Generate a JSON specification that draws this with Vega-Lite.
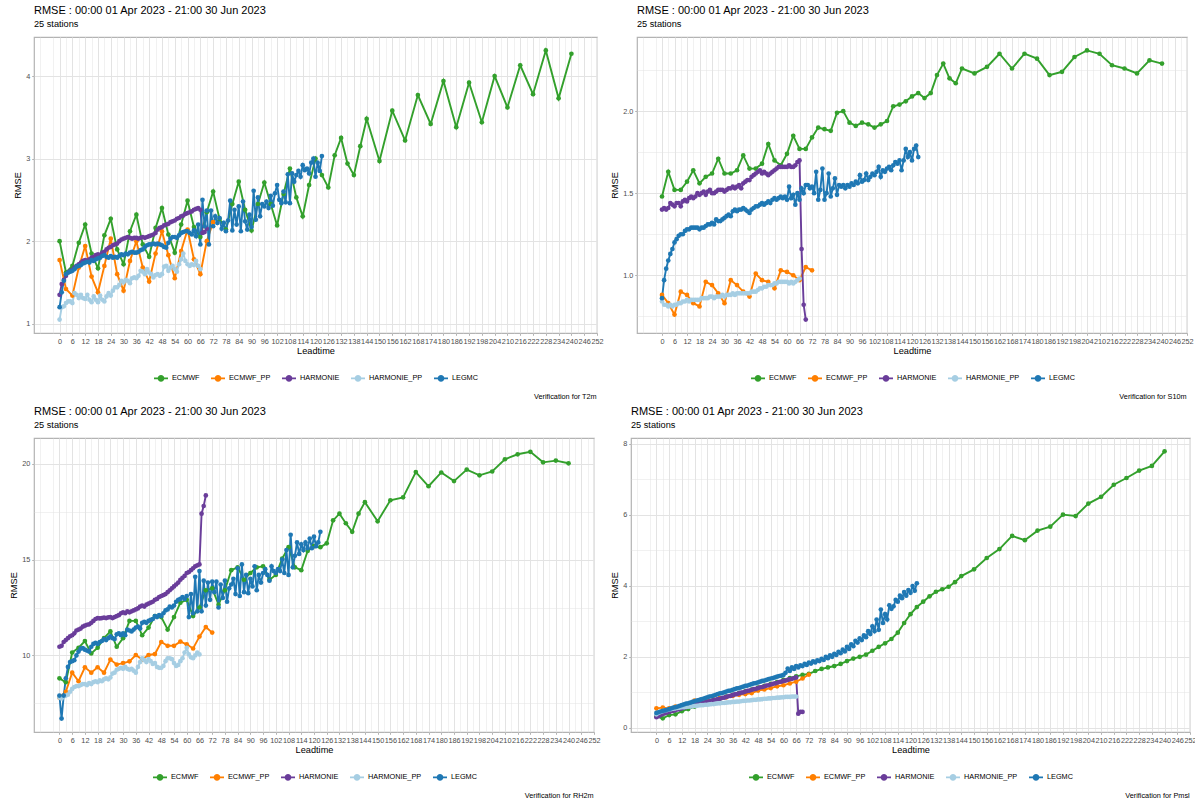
{
"$schema": "https://vega.github.io/schema/vega-lite/v6.json",
"padding": {"left": 8, "top": 4, "right": 0, "bottom": 0},
"background": "white",
"columns": 2,
"align": "none",
"spacing": {"row": 5, "column": 5},
"resolve": {"scale": {"color": "independent"}},
"config": {
 "font": "Liberation Sans",
 "view": {"stroke": "#B3B3B3", "strokeWidth": 1.2},
 "range": {"category": ["#33a02c", "#ff7f00", "#6a3d9a", "#a6cee3", "#1f78b4"]},
 "axis": {"domain": false, "labelFontSize": 7.3, "labelColor": "#4D4D4D", "labelPadding": 1.8, "tickSize": 2.3, "tickColor": "#B3B3B3", "tickWidth": 1, "titleFontSize": 9.2, "titleFontWeight": "normal", "titleColor": "#000000", "titlePadding": 2.3, "gridColor": "#E3E3E3", "labelOverlap": false, "labelFlush": false},
 "axisY": {"titlePadding": 3.5},
 "legend": {"orient": "bottom", "direction": "horizontal", "labelFontSize": 7.3, "labelColor": "#000000", "symbolType": "M-1,0H1M-0.34,0A0.34,0.34 0 1,0 0.34,0A0.34,0.34 0 1,0 -0.34,0", "symbolSize": 196, "symbolStrokeWidth": 1.9, "labelOffset": 3, "columnPadding": 7, "offset": 14, "layout": {"bottom": {"anchor": "middle"}}},
 "title": {"anchor": "start", "fontSize": 11, "fontWeight": "normal", "color": "#000000", "subtitleFontSize": 9.2, "subtitleColor": "#000000", "subtitlePadding": 4, "offset": 8, "frame": "group"},
 "line": {"strokeWidth": 1.9},
 "point": {"filled": true, "size": 22, "opacity": 1}
},
"datasets": {
"t2m_ecmwf": [{"t":0,"v":2.0},{"t":3,"v":1.62},{"t":6,"v":1.7},{"t":9,"v":1.98},{"t":12,"v":2.2},{"t":15,"v":1.85},{"t":18,"v":1.67},{"t":21,"v":2.07},{"t":24,"v":2.27},{"t":27,"v":1.9},{"t":30,"v":1.72},{"t":33,"v":2.12},{"t":36,"v":2.32},{"t":39,"v":1.96},{"t":42,"v":1.81},{"t":45,"v":2.16},{"t":48,"v":2.4},{"t":51,"v":2.08},{"t":54,"v":1.86},{"t":57,"v":2.2},{"t":60,"v":2.49},{"t":63,"v":2.17},{"t":66,"v":2.05},{"t":69,"v":2.35},{"t":72,"v":2.6},{"t":75,"v":2.27},{"t":78,"v":2.14},{"t":81,"v":2.45},{"t":84,"v":2.72},{"t":87,"v":2.38},{"t":90,"v":2.13},{"t":93,"v":2.45},{"t":96,"v":2.71},{"t":99,"v":2.45},{"t":102,"v":2.19},{"t":105,"v":2.57},{"t":108,"v":2.88},{"t":111,"v":2.53},{"t":114,"v":2.3},{"t":117,"v":2.68},{"t":120,"v":3.0},{"t":123,"v":2.8},{"t":126,"v":2.65},{"t":129,"v":3.04},{"t":132,"v":3.25},{"t":135,"v":2.94},{"t":138,"v":2.8},{"t":141,"v":3.15},{"t":144,"v":3.48},{"t":150,"v":2.97},{"t":156,"v":3.58},{"t":162,"v":3.22},{"t":168,"v":3.77},{"t":174,"v":3.42},{"t":180,"v":3.94},{"t":186,"v":3.38},{"t":192,"v":3.92},{"t":198,"v":3.44},{"t":204,"v":4.0},{"t":210,"v":3.62},{"t":216,"v":4.13},{"t":222,"v":3.78},{"t":228,"v":4.31},{"t":234,"v":3.73},{"t":240,"v":4.27}],
"t2m_ecmwfpp": [{"t":0,"v":1.77},{"t":3,"v":1.42},{"t":6,"v":1.34},{"t":9,"v":1.68},{"t":12,"v":1.94},{"t":15,"v":1.57},{"t":18,"v":1.38},{"t":21,"v":1.7},{"t":24,"v":2.03},{"t":27,"v":1.6},{"t":30,"v":1.4},{"t":33,"v":1.76},{"t":36,"v":2.0},{"t":39,"v":1.68},{"t":42,"v":1.51},{"t":45,"v":1.85},{"t":48,"v":2.12},{"t":51,"v":1.83},{"t":54,"v":1.55},{"t":57,"v":1.88},{"t":60,"v":2.14},{"t":63,"v":1.78},{"t":66,"v":1.6},{"t":69,"v":2.0},{"t":72,"v":2.23}],
"t2m_harmonie": [{"t":0,"v":1.35},{"t":1,"v":1.48},{"t":2,"v":1.53},{"t":3,"v":1.58},{"t":4,"v":1.62},{"t":5,"v":1.64},{"t":6,"v":1.65},{"t":7,"v":1.68},{"t":8,"v":1.7},{"t":9,"v":1.72},{"t":10,"v":1.74},{"t":11,"v":1.76},{"t":12,"v":1.77},{"t":13,"v":1.76},{"t":14,"v":1.78},{"t":15,"v":1.8},{"t":16,"v":1.81},{"t":17,"v":1.83},{"t":18,"v":1.84},{"t":19,"v":1.83},{"t":20,"v":1.86},{"t":21,"v":1.87},{"t":22,"v":1.9},{"t":23,"v":1.92},{"t":24,"v":1.93},{"t":25,"v":1.95},{"t":26,"v":1.96},{"t":27,"v":1.97},{"t":28,"v":2.0},{"t":29,"v":2.02},{"t":30,"v":2.03},{"t":31,"v":2.04},{"t":32,"v":2.05},{"t":33,"v":2.04},{"t":34,"v":2.03},{"t":35,"v":2.04},{"t":36,"v":2.04},{"t":37,"v":2.03},{"t":38,"v":2.04},{"t":39,"v":2.05},{"t":40,"v":2.04},{"t":41,"v":2.05},{"t":42,"v":2.06},{"t":43,"v":2.07},{"t":44,"v":2.08},{"t":45,"v":2.1},{"t":46,"v":2.14},{"t":47,"v":2.16},{"t":48,"v":2.17},{"t":49,"v":2.19},{"t":50,"v":2.2},{"t":51,"v":2.21},{"t":52,"v":2.23},{"t":53,"v":2.24},{"t":54,"v":2.25},{"t":55,"v":2.27},{"t":56,"v":2.28},{"t":57,"v":2.3},{"t":58,"v":2.31},{"t":59,"v":2.33},{"t":60,"v":2.34},{"t":61,"v":2.35},{"t":62,"v":2.36},{"t":63,"v":2.38},{"t":64,"v":2.39},{"t":65,"v":2.4},{"t":66,"v":2.38},{"t":67,"v":2.1},{"t":68,"v":2.11},{"t":69,"v":2.15}],
"t2m_harmoniepp": [{"t":0,"v":1.05},{"t":1,"v":1.2},{"t":2,"v":1.21},{"t":3,"v":1.25},{"t":4,"v":1.27},{"t":5,"v":1.27},{"t":6,"v":1.25},{"t":7,"v":1.37},{"t":8,"v":1.35},{"t":9,"v":1.31},{"t":10,"v":1.35},{"t":11,"v":1.31},{"t":12,"v":1.3},{"t":13,"v":1.35},{"t":14,"v":1.29},{"t":15,"v":1.26},{"t":16,"v":1.33},{"t":17,"v":1.29},{"t":18,"v":1.26},{"t":19,"v":1.34},{"t":20,"v":1.29},{"t":21,"v":1.27},{"t":22,"v":1.33},{"t":23,"v":1.37},{"t":24,"v":1.34},{"t":25,"v":1.4},{"t":26,"v":1.44},{"t":27,"v":1.44},{"t":28,"v":1.47},{"t":29,"v":1.52},{"t":30,"v":1.5},{"t":31,"v":1.53},{"t":32,"v":1.52},{"t":33,"v":1.49},{"t":34,"v":1.55},{"t":35,"v":1.56},{"t":36,"v":1.55},{"t":37,"v":1.58},{"t":38,"v":1.64},{"t":39,"v":1.63},{"t":40,"v":1.6},{"t":41,"v":1.66},{"t":42,"v":1.62},{"t":43,"v":1.6},{"t":44,"v":1.56},{"t":45,"v":1.59},{"t":46,"v":1.6},{"t":47,"v":1.58},{"t":48,"v":1.6},{"t":49,"v":1.69},{"t":50,"v":1.7},{"t":51,"v":1.64},{"t":52,"v":1.68},{"t":53,"v":1.7},{"t":54,"v":1.66},{"t":55,"v":1.63},{"t":56,"v":1.72},{"t":57,"v":1.78},{"t":58,"v":1.85},{"t":59,"v":1.76},{"t":60,"v":1.72},{"t":61,"v":1.7},{"t":62,"v":1.72},{"t":63,"v":1.71},{"t":64,"v":1.76},{"t":65,"v":1.7},{"t":66,"v":1.66}],
"t2m_legmc": [{"t":0,"v":1.2},{"t":1,"v":1.38},{"t":2,"v":1.52},{"t":3,"v":1.6},{"t":4,"v":1.62},{"t":5,"v":1.63},{"t":6,"v":1.64},{"t":7,"v":1.66},{"t":8,"v":1.69},{"t":9,"v":1.7},{"t":10,"v":1.71},{"t":11,"v":1.73},{"t":12,"v":1.74},{"t":13,"v":1.75},{"t":14,"v":1.74},{"t":15,"v":1.77},{"t":16,"v":1.76},{"t":17,"v":1.78},{"t":18,"v":1.79},{"t":19,"v":1.8},{"t":20,"v":1.82},{"t":21,"v":1.83},{"t":22,"v":1.81},{"t":23,"v":1.8},{"t":24,"v":1.82},{"t":25,"v":1.8},{"t":26,"v":1.81},{"t":27,"v":1.8},{"t":28,"v":1.82},{"t":29,"v":1.84},{"t":30,"v":1.83},{"t":31,"v":1.85},{"t":32,"v":1.84},{"t":33,"v":1.86},{"t":34,"v":1.87},{"t":35,"v":1.86},{"t":36,"v":1.86},{"t":37,"v":1.87},{"t":38,"v":1.89},{"t":39,"v":1.9},{"t":40,"v":1.93},{"t":41,"v":1.95},{"t":42,"v":1.96},{"t":43,"v":1.96},{"t":44,"v":1.97},{"t":45,"v":1.96},{"t":46,"v":1.97},{"t":47,"v":1.96},{"t":48,"v":1.95},{"t":49,"v":1.93},{"t":50,"v":1.92},{"t":51,"v":1.98},{"t":52,"v":2.03},{"t":53,"v":2.05},{"t":54,"v":2.05},{"t":55,"v":2.04},{"t":56,"v":2.07},{"t":57,"v":2.1},{"t":58,"v":2.11},{"t":59,"v":2.12},{"t":60,"v":2.12},{"t":61,"v":2.1},{"t":62,"v":2.08},{"t":63,"v":2.13},{"t":64,"v":2.06},{"t":65,"v":2.2},{"t":66,"v":1.96},{"t":67,"v":2.5},{"t":68,"v":2.18},{"t":69,"v":2.37},{"t":70,"v":1.96},{"t":71,"v":2.37},{"t":72,"v":2.18},{"t":73,"v":2.3},{"t":74,"v":2.22},{"t":75,"v":2.28},{"t":76,"v":2.15},{"t":77,"v":2.22},{"t":78,"v":2.12},{"t":79,"v":2.25},{"t":80,"v":2.49},{"t":81,"v":2.13},{"t":82,"v":2.38},{"t":83,"v":2.2},{"t":84,"v":2.42},{"t":85,"v":2.12},{"t":86,"v":2.48},{"t":87,"v":2.24},{"t":88,"v":2.14},{"t":89,"v":2.32},{"t":90,"v":2.17},{"t":91,"v":2.61},{"t":92,"v":2.26},{"t":93,"v":2.53},{"t":94,"v":2.3},{"t":95,"v":2.45},{"t":96,"v":2.42},{"t":97,"v":2.48},{"t":98,"v":2.4},{"t":99,"v":2.55},{"t":100,"v":2.43},{"t":101,"v":2.58},{"t":102,"v":2.68},{"t":103,"v":2.5},{"t":104,"v":2.46},{"t":105,"v":2.6},{"t":106,"v":2.47},{"t":107,"v":2.81},{"t":108,"v":2.46},{"t":109,"v":2.82},{"t":110,"v":2.72},{"t":111,"v":2.8},{"t":112,"v":2.85},{"t":113,"v":2.78},{"t":114,"v":2.92},{"t":115,"v":2.86},{"t":116,"v":2.88},{"t":117,"v":2.82},{"t":118,"v":2.95},{"t":119,"v":3.0},{"t":120,"v":2.78},{"t":121,"v":2.95},{"t":122,"v":2.85},{"t":123,"v":3.03}],
"s10m_ecmwf": [{"t":0,"v":1.48},{"t":3,"v":1.63},{"t":6,"v":1.52},{"t":9,"v":1.52},{"t":12,"v":1.57},{"t":15,"v":1.64},{"t":18,"v":1.56},{"t":21,"v":1.6},{"t":24,"v":1.62},{"t":27,"v":1.71},{"t":30,"v":1.62},{"t":33,"v":1.62},{"t":36,"v":1.64},{"t":39,"v":1.73},{"t":42,"v":1.65},{"t":45,"v":1.65},{"t":48,"v":1.68},{"t":51,"v":1.8},{"t":54,"v":1.7},{"t":57,"v":1.67},{"t":60,"v":1.74},{"t":63,"v":1.85},{"t":66,"v":1.77},{"t":69,"v":1.77},{"t":72,"v":1.84},{"t":75,"v":1.9},{"t":78,"v":1.89},{"t":81,"v":1.88},{"t":84,"v":1.99},{"t":87,"v":2.0},{"t":90,"v":1.93},{"t":93,"v":1.91},{"t":96,"v":1.93},{"t":99,"v":1.92},{"t":102,"v":1.9},{"t":105,"v":1.92},{"t":108,"v":1.94},{"t":111,"v":2.03},{"t":114,"v":2.04},{"t":117,"v":2.06},{"t":120,"v":2.09},{"t":123,"v":2.11},{"t":126,"v":2.08},{"t":129,"v":2.11},{"t":132,"v":2.22},{"t":135,"v":2.29},{"t":138,"v":2.2},{"t":141,"v":2.17},{"t":144,"v":2.26},{"t":150,"v":2.23},{"t":156,"v":2.27},{"t":162,"v":2.35},{"t":168,"v":2.26},{"t":174,"v":2.35},{"t":180,"v":2.32},{"t":186,"v":2.22},{"t":192,"v":2.24},{"t":198,"v":2.33},{"t":204,"v":2.37},{"t":210,"v":2.35},{"t":216,"v":2.28},{"t":222,"v":2.26},{"t":228,"v":2.23},{"t":234,"v":2.31},{"t":240,"v":2.29}],
"s10m_ecmwfpp": [{"t":0,"v":0.88},{"t":3,"v":0.83},{"t":6,"v":0.76},{"t":9,"v":0.9},{"t":12,"v":0.88},{"t":15,"v":0.83},{"t":18,"v":0.81},{"t":21,"v":0.96},{"t":24,"v":0.94},{"t":27,"v":0.89},{"t":30,"v":0.83},{"t":33,"v":0.97},{"t":36,"v":0.94},{"t":39,"v":0.9},{"t":42,"v":0.87},{"t":45,"v":1.01},{"t":48,"v":0.97},{"t":51,"v":0.96},{"t":54,"v":0.92},{"t":57,"v":1.03},{"t":60,"v":1.02},{"t":63,"v":1.0},{"t":66,"v":0.97},{"t":69,"v":1.05},{"t":72,"v":1.03}],
"s10m_harmonie": [{"t":0,"v":1.4},{"t":1,"v":1.41},{"t":2,"v":1.4},{"t":3,"v":1.41},{"t":4,"v":1.44},{"t":5,"v":1.43},{"t":6,"v":1.42},{"t":7,"v":1.44},{"t":8,"v":1.44},{"t":9,"v":1.42},{"t":10,"v":1.45},{"t":11,"v":1.46},{"t":12,"v":1.45},{"t":13,"v":1.47},{"t":14,"v":1.48},{"t":15,"v":1.47},{"t":16,"v":1.48},{"t":17,"v":1.5},{"t":18,"v":1.49},{"t":19,"v":1.5},{"t":20,"v":1.51},{"t":21,"v":1.49},{"t":22,"v":1.51},{"t":23,"v":1.52},{"t":24,"v":1.5},{"t":25,"v":1.5},{"t":26,"v":1.51},{"t":27,"v":1.52},{"t":28,"v":1.52},{"t":29,"v":1.52},{"t":30,"v":1.51},{"t":31,"v":1.52},{"t":32,"v":1.53},{"t":33,"v":1.53},{"t":34,"v":1.54},{"t":35,"v":1.53},{"t":36,"v":1.54},{"t":37,"v":1.55},{"t":38,"v":1.53},{"t":39,"v":1.56},{"t":40,"v":1.57},{"t":41,"v":1.58},{"t":42,"v":1.58},{"t":43,"v":1.6},{"t":44,"v":1.61},{"t":45,"v":1.62},{"t":46,"v":1.63},{"t":47,"v":1.64},{"t":48,"v":1.62},{"t":49,"v":1.63},{"t":50,"v":1.62},{"t":51,"v":1.61},{"t":52,"v":1.62},{"t":53,"v":1.63},{"t":54,"v":1.64},{"t":55,"v":1.65},{"t":56,"v":1.66},{"t":57,"v":1.66},{"t":58,"v":1.66},{"t":59,"v":1.66},{"t":60,"v":1.66},{"t":61,"v":1.67},{"t":62,"v":1.66},{"t":63,"v":1.66},{"t":64,"v":1.67},{"t":65,"v":1.69},{"t":66,"v":1.7},{"t":67,"v":1.16},{"t":68,"v":0.82},{"t":69,"v":0.73}],
"s10m_harmoniepp": [{"t":0,"v":0.84},{"t":1,"v":0.82},{"t":2,"v":0.82},{"t":3,"v":0.81},{"t":4,"v":0.82},{"t":5,"v":0.81},{"t":6,"v":0.82},{"t":7,"v":0.82},{"t":8,"v":0.83},{"t":9,"v":0.83},{"t":10,"v":0.84},{"t":11,"v":0.84},{"t":12,"v":0.85},{"t":13,"v":0.84},{"t":14,"v":0.85},{"t":15,"v":0.85},{"t":16,"v":0.85},{"t":17,"v":0.85},{"t":18,"v":0.85},{"t":19,"v":0.86},{"t":20,"v":0.86},{"t":21,"v":0.86},{"t":22,"v":0.86},{"t":23,"v":0.87},{"t":24,"v":0.87},{"t":25,"v":0.86},{"t":26,"v":0.87},{"t":27,"v":0.87},{"t":28,"v":0.87},{"t":29,"v":0.88},{"t":30,"v":0.87},{"t":31,"v":0.88},{"t":32,"v":0.88},{"t":33,"v":0.88},{"t":34,"v":0.89},{"t":35,"v":0.88},{"t":36,"v":0.89},{"t":37,"v":0.89},{"t":38,"v":0.89},{"t":39,"v":0.89},{"t":40,"v":0.89},{"t":41,"v":0.89},{"t":42,"v":0.89},{"t":43,"v":0.9},{"t":44,"v":0.9},{"t":45,"v":0.9},{"t":46,"v":0.91},{"t":47,"v":0.92},{"t":48,"v":0.92},{"t":49,"v":0.93},{"t":50,"v":0.93},{"t":51,"v":0.94},{"t":52,"v":0.94},{"t":53,"v":0.94},{"t":54,"v":0.95},{"t":55,"v":0.95},{"t":56,"v":0.96},{"t":57,"v":0.96},{"t":58,"v":0.96},{"t":59,"v":0.96},{"t":60,"v":0.96},{"t":61,"v":0.95},{"t":62,"v":0.96},{"t":63,"v":0.95},{"t":64,"v":0.96},{"t":65,"v":0.97},{"t":66,"v":0.98}],
"s10m_legmc": [{"t":0,"v":0.86},{"t":1,"v":0.97},{"t":2,"v":1.04},{"t":3,"v":1.09},{"t":4,"v":1.13},{"t":5,"v":1.16},{"t":6,"v":1.2},{"t":7,"v":1.22},{"t":8,"v":1.24},{"t":9,"v":1.25},{"t":10,"v":1.25},{"t":11,"v":1.27},{"t":12,"v":1.28},{"t":13,"v":1.28},{"t":14,"v":1.29},{"t":15,"v":1.29},{"t":16,"v":1.29},{"t":17,"v":1.29},{"t":18,"v":1.28},{"t":19,"v":1.29},{"t":20,"v":1.29},{"t":21,"v":1.3},{"t":22,"v":1.31},{"t":23,"v":1.31},{"t":24,"v":1.32},{"t":25,"v":1.31},{"t":26,"v":1.34},{"t":27,"v":1.33},{"t":28,"v":1.33},{"t":29,"v":1.34},{"t":30,"v":1.35},{"t":31,"v":1.36},{"t":32,"v":1.37},{"t":33,"v":1.36},{"t":34,"v":1.39},{"t":35,"v":1.4},{"t":36,"v":1.39},{"t":37,"v":1.4},{"t":38,"v":1.4},{"t":39,"v":1.41},{"t":40,"v":1.4},{"t":41,"v":1.39},{"t":42,"v":1.38},{"t":43,"v":1.4},{"t":44,"v":1.41},{"t":45,"v":1.42},{"t":46,"v":1.42},{"t":47,"v":1.43},{"t":48,"v":1.44},{"t":49,"v":1.43},{"t":50,"v":1.44},{"t":51,"v":1.45},{"t":52,"v":1.44},{"t":53,"v":1.46},{"t":54,"v":1.47},{"t":55,"v":1.46},{"t":56,"v":1.47},{"t":57,"v":1.48},{"t":58,"v":1.47},{"t":59,"v":1.48},{"t":60,"v":1.46},{"t":61,"v":1.54},{"t":62,"v":1.47},{"t":63,"v":1.49},{"t":64,"v":1.43},{"t":65,"v":1.5},{"t":66,"v":1.46},{"t":67,"v":1.53},{"t":68,"v":1.5},{"t":69,"v":1.55},{"t":70,"v":1.55},{"t":71,"v":1.53},{"t":72,"v":1.54},{"t":73,"v":1.5},{"t":74,"v":1.63},{"t":75,"v":1.46},{"t":76,"v":1.52},{"t":77,"v":1.65},{"t":78,"v":1.46},{"t":79,"v":1.5},{"t":80,"v":1.62},{"t":81,"v":1.48},{"t":82,"v":1.53},{"t":83,"v":1.59},{"t":84,"v":1.49},{"t":85,"v":1.55},{"t":86,"v":1.54},{"t":87,"v":1.55},{"t":88,"v":1.53},{"t":89,"v":1.55},{"t":90,"v":1.54},{"t":91,"v":1.56},{"t":92,"v":1.55},{"t":93,"v":1.57},{"t":94,"v":1.56},{"t":95,"v":1.61},{"t":96,"v":1.57},{"t":97,"v":1.58},{"t":98,"v":1.62},{"t":99,"v":1.58},{"t":100,"v":1.6},{"t":101,"v":1.62},{"t":102,"v":1.61},{"t":103,"v":1.63},{"t":104,"v":1.66},{"t":105,"v":1.6},{"t":106,"v":1.64},{"t":107,"v":1.63},{"t":108,"v":1.65},{"t":109,"v":1.66},{"t":110,"v":1.64},{"t":111,"v":1.67},{"t":112,"v":1.69},{"t":113,"v":1.68},{"t":114,"v":1.7},{"t":115,"v":1.64},{"t":116,"v":1.7},{"t":117,"v":1.77},{"t":118,"v":1.72},{"t":119,"v":1.75},{"t":120,"v":1.7},{"t":121,"v":1.77},{"t":122,"v":1.79},{"t":123,"v":1.72}],
"rh2m_ecmwf": [{"t":0,"v":8.8},{"t":3,"v":8.6},{"t":6,"v":10.15},{"t":9,"v":10.4},{"t":12,"v":10.75},{"t":15,"v":10.1},{"t":18,"v":10.4},{"t":21,"v":10.9},{"t":24,"v":11.25},{"t":27,"v":10.45},{"t":30,"v":10.9},{"t":33,"v":11.8},{"t":36,"v":11.8},{"t":39,"v":11.05},{"t":42,"v":11.45},{"t":45,"v":12.05},{"t":48,"v":12.0},{"t":51,"v":11.35},{"t":54,"v":12.0},{"t":57,"v":12.75},{"t":60,"v":12.9},{"t":63,"v":12.05},{"t":66,"v":12.5},{"t":69,"v":13.4},{"t":72,"v":13.5},{"t":75,"v":12.65},{"t":78,"v":13.4},{"t":81,"v":14.45},{"t":84,"v":14.6},{"t":87,"v":13.95},{"t":90,"v":14.3},{"t":93,"v":14.6},{"t":96,"v":14.65},{"t":99,"v":13.95},{"t":102,"v":14.2},{"t":105,"v":15.05},{"t":108,"v":15.65},{"t":111,"v":14.6},{"t":114,"v":14.45},{"t":117,"v":15.45},{"t":120,"v":15.7},{"t":123,"v":15.65},{"t":126,"v":15.85},{"t":129,"v":17.05},{"t":132,"v":17.4},{"t":135,"v":16.9},{"t":138,"v":16.45},{"t":141,"v":17.4},{"t":144,"v":18.0},{"t":150,"v":17.0},{"t":156,"v":18.1},{"t":162,"v":18.25},{"t":168,"v":19.57},{"t":174,"v":18.83},{"t":180,"v":19.55},{"t":186,"v":19.1},{"t":192,"v":19.7},{"t":198,"v":19.4},{"t":204,"v":19.6},{"t":210,"v":20.24},{"t":216,"v":20.5},{"t":222,"v":20.63},{"t":228,"v":20.08},{"t":234,"v":20.17},{"t":240,"v":20.03}],
"rh2m_ecmwfpp": [{"t":0,"v":7.8},{"t":3,"v":8.1},{"t":6,"v":9.1},{"t":9,"v":8.65},{"t":12,"v":9.38},{"t":15,"v":9.1},{"t":18,"v":9.38},{"t":21,"v":9.1},{"t":24,"v":9.78},{"t":27,"v":9.52},{"t":30,"v":9.6},{"t":33,"v":9.69},{"t":36,"v":10.02},{"t":39,"v":9.78},{"t":42,"v":10.02},{"t":45,"v":10.07},{"t":48,"v":10.7},{"t":51,"v":10.5},{"t":54,"v":10.5},{"t":57,"v":10.72},{"t":60,"v":10.58},{"t":63,"v":10.36},{"t":66,"v":10.98},{"t":69,"v":11.48},{"t":72,"v":11.19}],
"rh2m_harmonie": [{"t":0,"v":10.45},{"t":1,"v":10.5},{"t":2,"v":10.7},{"t":3,"v":10.8},{"t":4,"v":10.9},{"t":5,"v":11.0},{"t":6,"v":11.05},{"t":7,"v":11.15},{"t":8,"v":11.3},{"t":9,"v":11.35},{"t":10,"v":11.4},{"t":11,"v":11.5},{"t":12,"v":11.55},{"t":13,"v":11.6},{"t":14,"v":11.62},{"t":15,"v":11.7},{"t":16,"v":11.8},{"t":17,"v":11.9},{"t":18,"v":11.95},{"t":19,"v":11.93},{"t":20,"v":11.95},{"t":21,"v":11.97},{"t":22,"v":11.95},{"t":23,"v":11.98},{"t":24,"v":12.0},{"t":25,"v":11.95},{"t":26,"v":12.0},{"t":27,"v":12.05},{"t":28,"v":12.1},{"t":29,"v":12.2},{"t":30,"v":12.25},{"t":31,"v":12.2},{"t":32,"v":12.3},{"t":33,"v":12.25},{"t":34,"v":12.3},{"t":35,"v":12.35},{"t":36,"v":12.4},{"t":37,"v":12.45},{"t":38,"v":12.55},{"t":39,"v":12.6},{"t":40,"v":12.55},{"t":41,"v":12.65},{"t":42,"v":12.7},{"t":43,"v":12.75},{"t":44,"v":12.8},{"t":45,"v":12.9},{"t":46,"v":12.95},{"t":47,"v":13.05},{"t":48,"v":13.1},{"t":49,"v":13.15},{"t":50,"v":13.2},{"t":51,"v":13.3},{"t":52,"v":13.4},{"t":53,"v":13.5},{"t":54,"v":13.6},{"t":55,"v":13.7},{"t":56,"v":13.8},{"t":57,"v":13.95},{"t":58,"v":14.05},{"t":59,"v":14.15},{"t":60,"v":14.3},{"t":61,"v":14.35},{"t":62,"v":14.45},{"t":63,"v":14.55},{"t":64,"v":14.65},{"t":65,"v":14.7},{"t":66,"v":14.75},{"t":67,"v":17.4},{"t":68,"v":17.8},{"t":69,"v":18.35}],
"rh2m_harmoniepp": [{"t":0,"v":7.8},{"t":1,"v":7.75},{"t":2,"v":7.85},{"t":3,"v":7.9},{"t":4,"v":7.95},{"t":5,"v":8.1},{"t":6,"v":8.25},{"t":7,"v":8.35},{"t":8,"v":8.4},{"t":9,"v":8.4},{"t":10,"v":8.45},{"t":11,"v":8.5},{"t":12,"v":8.5},{"t":13,"v":8.45},{"t":14,"v":8.55},{"t":15,"v":8.5},{"t":16,"v":8.6},{"t":17,"v":8.65},{"t":18,"v":8.6},{"t":19,"v":8.7},{"t":20,"v":8.65},{"t":21,"v":8.75},{"t":22,"v":8.8},{"t":23,"v":8.75},{"t":24,"v":8.85},{"t":25,"v":9.05},{"t":26,"v":9.1},{"t":27,"v":9.25},{"t":28,"v":9.3},{"t":29,"v":9.35},{"t":30,"v":9.3},{"t":31,"v":9.4},{"t":32,"v":9.3},{"t":33,"v":9.25},{"t":34,"v":9.3},{"t":35,"v":9.2},{"t":36,"v":9.1},{"t":37,"v":9.4},{"t":38,"v":9.65},{"t":39,"v":9.85},{"t":40,"v":9.75},{"t":41,"v":9.65},{"t":42,"v":9.8},{"t":43,"v":9.7},{"t":44,"v":9.55},{"t":45,"v":9.6},{"t":46,"v":9.4},{"t":47,"v":9.35},{"t":48,"v":9.35},{"t":49,"v":9.45},{"t":50,"v":9.7},{"t":51,"v":9.85},{"t":52,"v":9.85},{"t":53,"v":9.8},{"t":54,"v":9.6},{"t":55,"v":9.45},{"t":56,"v":9.5},{"t":57,"v":9.7},{"t":58,"v":9.85},{"t":59,"v":10.15},{"t":60,"v":10.4},{"t":61,"v":10.05},{"t":62,"v":9.9},{"t":63,"v":9.85},{"t":64,"v":10.0},{"t":65,"v":10.15},{"t":66,"v":10.05}],
"rh2m_legmc": [{"t":0,"v":7.9},{"t":1,"v":6.7},{"t":2,"v":7.9},{"t":3,"v":8.8},{"t":4,"v":9.4},{"t":5,"v":9.65},{"t":6,"v":9.7},{"t":7,"v":9.75},{"t":8,"v":10.0},{"t":9,"v":10.2},{"t":10,"v":10.35},{"t":11,"v":10.38},{"t":12,"v":10.3},{"t":13,"v":10.25},{"t":14,"v":10.2},{"t":15,"v":10.45},{"t":16,"v":10.6},{"t":17,"v":10.65},{"t":18,"v":10.6},{"t":19,"v":10.7},{"t":20,"v":10.75},{"t":21,"v":10.85},{"t":22,"v":10.8},{"t":23,"v":10.9},{"t":24,"v":11.0},{"t":25,"v":10.9},{"t":26,"v":10.85},{"t":27,"v":11.1},{"t":28,"v":11.15},{"t":29,"v":11.05},{"t":30,"v":11.15},{"t":31,"v":11.05},{"t":32,"v":11.35},{"t":33,"v":11.3},{"t":34,"v":11.25},{"t":35,"v":11.35},{"t":36,"v":11.45},{"t":37,"v":11.5},{"t":38,"v":11.4},{"t":39,"v":11.7},{"t":40,"v":11.75},{"t":41,"v":11.7},{"t":42,"v":11.8},{"t":43,"v":11.85},{"t":44,"v":11.9},{"t":45,"v":12.05},{"t":46,"v":12.0},{"t":47,"v":12.1},{"t":48,"v":12.05},{"t":49,"v":12.2},{"t":50,"v":12.35},{"t":51,"v":12.4},{"t":52,"v":12.55},{"t":53,"v":12.5},{"t":54,"v":12.6},{"t":55,"v":12.8},{"t":56,"v":12.9},{"t":57,"v":12.95},{"t":58,"v":13.05},{"t":59,"v":12.95},{"t":60,"v":13.1},{"t":61,"v":12.0},{"t":62,"v":13.2},{"t":63,"v":12.2},{"t":64,"v":14.1},{"t":65,"v":12.3},{"t":66,"v":14.4},{"t":67,"v":12.3},{"t":68,"v":13.9},{"t":69,"v":12.6},{"t":70,"v":13.8},{"t":71,"v":12.9},{"t":72,"v":13.85},{"t":73,"v":13.3},{"t":74,"v":13.85},{"t":75,"v":12.5},{"t":76,"v":13.7},{"t":77,"v":13.0},{"t":78,"v":13.9},{"t":79,"v":12.8},{"t":80,"v":13.5},{"t":81,"v":13.7},{"t":82,"v":14.0},{"t":83,"v":13.2},{"t":84,"v":14.55},{"t":85,"v":13.1},{"t":86,"v":14.75},{"t":87,"v":13.3},{"t":88,"v":14.2},{"t":89,"v":13.25},{"t":90,"v":14.0},{"t":91,"v":13.6},{"t":92,"v":14.65},{"t":93,"v":13.4},{"t":94,"v":14.2},{"t":95,"v":13.8},{"t":96,"v":14.3},{"t":97,"v":14.5},{"t":98,"v":14.2},{"t":99,"v":13.9},{"t":100,"v":14.65},{"t":101,"v":14.4},{"t":102,"v":14.3},{"t":103,"v":14.5},{"t":104,"v":14.4},{"t":105,"v":15.0},{"t":106,"v":14.3},{"t":107,"v":15.5},{"t":108,"v":14.2},{"t":109,"v":16.3},{"t":110,"v":14.6},{"t":111,"v":15.2},{"t":112,"v":15.9},{"t":113,"v":15.3},{"t":114,"v":15.8},{"t":115,"v":15.5},{"t":116,"v":15.9},{"t":117,"v":15.6},{"t":118,"v":16.1},{"t":119,"v":15.6},{"t":120,"v":16.2},{"t":121,"v":15.7},{"t":122,"v":15.9},{"t":123,"v":16.45}],
"pmsl_ecmwf": [{"t":0,"v":0.32},{"t":3,"v":0.27},{"t":6,"v":0.36},{"t":9,"v":0.38},{"t":12,"v":0.47},{"t":15,"v":0.53},{"t":18,"v":0.6},{"t":21,"v":0.66},{"t":24,"v":0.72},{"t":27,"v":0.77},{"t":30,"v":0.83},{"t":33,"v":0.88},{"t":36,"v":0.93},{"t":39,"v":0.98},{"t":42,"v":1.03},{"t":45,"v":1.08},{"t":48,"v":1.13},{"t":51,"v":1.18},{"t":54,"v":1.24},{"t":57,"v":1.29},{"t":60,"v":1.35},{"t":63,"v":1.4},{"t":66,"v":1.45},{"t":69,"v":1.49},{"t":72,"v":1.52},{"t":75,"v":1.6},{"t":78,"v":1.66},{"t":81,"v":1.7},{"t":84,"v":1.74},{"t":87,"v":1.8},{"t":90,"v":1.88},{"t":93,"v":1.95},{"t":96,"v":2.0},{"t":99,"v":2.06},{"t":102,"v":2.17},{"t":105,"v":2.28},{"t":108,"v":2.38},{"t":111,"v":2.5},{"t":114,"v":2.68},{"t":117,"v":2.95},{"t":120,"v":3.2},{"t":123,"v":3.4},{"t":126,"v":3.55},{"t":129,"v":3.7},{"t":132,"v":3.83},{"t":135,"v":3.9},{"t":138,"v":3.97},{"t":141,"v":4.1},{"t":144,"v":4.27},{"t":150,"v":4.46},{"t":156,"v":4.78},{"t":162,"v":5.03},{"t":168,"v":5.4},{"t":174,"v":5.28},{"t":180,"v":5.55},{"t":186,"v":5.66},{"t":192,"v":6.0},{"t":198,"v":5.96},{"t":204,"v":6.31},{"t":210,"v":6.5},{"t":216,"v":6.84},{"t":222,"v":7.03},{"t":228,"v":7.24},{"t":234,"v":7.37},{"t":240,"v":7.78}],
"pmsl_ecmwfpp": [{"t":0,"v":0.55},{"t":3,"v":0.57},{"t":6,"v":0.55},{"t":9,"v":0.6},{"t":12,"v":0.63},{"t":15,"v":0.66},{"t":18,"v":0.77},{"t":21,"v":0.72},{"t":24,"v":0.78},{"t":27,"v":0.8},{"t":30,"v":0.84},{"t":33,"v":0.86},{"t":36,"v":0.9},{"t":39,"v":0.93},{"t":42,"v":0.95},{"t":45,"v":0.98},{"t":48,"v":1.05},{"t":51,"v":1.08},{"t":54,"v":1.12},{"t":57,"v":1.17},{"t":60,"v":1.2},{"t":63,"v":1.25},{"t":66,"v":1.3},{"t":69,"v":1.39},{"t":72,"v":1.5}],
"pmsl_harmonie": [{"t":0,"v":0.3},{"t":1,"v":0.33},{"t":2,"v":0.36},{"t":3,"v":0.39},{"t":4,"v":0.41},{"t":5,"v":0.43},{"t":6,"v":0.45},{"t":7,"v":0.47},{"t":8,"v":0.48},{"t":9,"v":0.5},{"t":10,"v":0.52},{"t":11,"v":0.53},{"t":12,"v":0.55},{"t":13,"v":0.57},{"t":14,"v":0.58},{"t":15,"v":0.6},{"t":16,"v":0.61},{"t":17,"v":0.63},{"t":18,"v":0.64},{"t":19,"v":0.66},{"t":20,"v":0.67},{"t":21,"v":0.69},{"t":22,"v":0.7},{"t":23,"v":0.72},{"t":24,"v":0.73},{"t":25,"v":0.75},{"t":26,"v":0.76},{"t":27,"v":0.78},{"t":28,"v":0.79},{"t":29,"v":0.81},{"t":30,"v":0.82},{"t":31,"v":0.84},{"t":32,"v":0.85},{"t":33,"v":0.87},{"t":34,"v":0.89},{"t":35,"v":0.9},{"t":36,"v":0.92},{"t":37,"v":0.94},{"t":38,"v":0.95},{"t":39,"v":0.97},{"t":40,"v":0.99},{"t":41,"v":1.0},{"t":42,"v":1.02},{"t":43,"v":1.04},{"t":44,"v":1.05},{"t":45,"v":1.07},{"t":46,"v":1.09},{"t":47,"v":1.1},{"t":48,"v":1.12},{"t":49,"v":1.14},{"t":50,"v":1.15},{"t":51,"v":1.17},{"t":52,"v":1.19},{"t":53,"v":1.2},{"t":54,"v":1.22},{"t":55,"v":1.24},{"t":56,"v":1.25},{"t":57,"v":1.27},{"t":58,"v":1.29},{"t":59,"v":1.3},{"t":60,"v":1.32},{"t":61,"v":1.33},{"t":62,"v":1.35},{"t":63,"v":1.37},{"t":64,"v":1.38},{"t":65,"v":1.4},{"t":66,"v":1.42},{"t":67,"v":0.4},{"t":68,"v":0.45},{"t":69,"v":0.45}],
"pmsl_harmoniepp": [{"t":0,"v":0.38},{"t":1,"v":0.42},{"t":2,"v":0.45},{"t":3,"v":0.47},{"t":4,"v":0.49},{"t":5,"v":0.5},{"t":6,"v":0.52},{"t":7,"v":0.53},{"t":8,"v":0.54},{"t":9,"v":0.55},{"t":10,"v":0.56},{"t":11,"v":0.57},{"t":12,"v":0.58},{"t":13,"v":0.58},{"t":14,"v":0.59},{"t":15,"v":0.6},{"t":16,"v":0.6},{"t":17,"v":0.61},{"t":18,"v":0.62},{"t":19,"v":0.62},{"t":20,"v":0.63},{"t":21,"v":0.64},{"t":22,"v":0.64},{"t":23,"v":0.65},{"t":24,"v":0.65},{"t":25,"v":0.66},{"t":26,"v":0.67},{"t":27,"v":0.67},{"t":28,"v":0.68},{"t":29,"v":0.69},{"t":30,"v":0.69},{"t":31,"v":0.7},{"t":32,"v":0.7},{"t":33,"v":0.71},{"t":34,"v":0.72},{"t":35,"v":0.72},{"t":36,"v":0.73},{"t":37,"v":0.73},{"t":38,"v":0.74},{"t":39,"v":0.74},{"t":40,"v":0.75},{"t":41,"v":0.76},{"t":42,"v":0.76},{"t":43,"v":0.77},{"t":44,"v":0.77},{"t":45,"v":0.78},{"t":46,"v":0.79},{"t":47,"v":0.79},{"t":48,"v":0.8},{"t":49,"v":0.8},{"t":50,"v":0.81},{"t":51,"v":0.82},{"t":52,"v":0.82},{"t":53,"v":0.83},{"t":54,"v":0.83},{"t":55,"v":0.84},{"t":56,"v":0.84},{"t":57,"v":0.85},{"t":58,"v":0.85},{"t":59,"v":0.86},{"t":60,"v":0.86},{"t":61,"v":0.87},{"t":62,"v":0.87},{"t":63,"v":0.87},{"t":64,"v":0.88},{"t":65,"v":0.88},{"t":66,"v":0.88}],
"pmsl_legmc": [{"t":0,"v":0.42},{"t":1,"v":0.44},{"t":2,"v":0.46},{"t":3,"v":0.48},{"t":4,"v":0.49},{"t":5,"v":0.51},{"t":6,"v":0.53},{"t":7,"v":0.55},{"t":8,"v":0.57},{"t":9,"v":0.58},{"t":10,"v":0.6},{"t":11,"v":0.62},{"t":12,"v":0.64},{"t":13,"v":0.66},{"t":14,"v":0.68},{"t":15,"v":0.69},{"t":16,"v":0.71},{"t":17,"v":0.73},{"t":18,"v":0.75},{"t":19,"v":0.77},{"t":20,"v":0.78},{"t":21,"v":0.8},{"t":22,"v":0.82},{"t":23,"v":0.84},{"t":24,"v":0.86},{"t":25,"v":0.88},{"t":26,"v":0.89},{"t":27,"v":0.91},{"t":28,"v":0.93},{"t":29,"v":0.95},{"t":30,"v":0.97},{"t":31,"v":0.98},{"t":32,"v":1.0},{"t":33,"v":1.02},{"t":34,"v":1.04},{"t":35,"v":1.05},{"t":36,"v":1.07},{"t":37,"v":1.09},{"t":38,"v":1.11},{"t":39,"v":1.12},{"t":40,"v":1.14},{"t":41,"v":1.16},{"t":42,"v":1.18},{"t":43,"v":1.19},{"t":44,"v":1.21},{"t":45,"v":1.23},{"t":46,"v":1.25},{"t":47,"v":1.26},{"t":48,"v":1.28},{"t":49,"v":1.3},{"t":50,"v":1.32},{"t":51,"v":1.33},{"t":52,"v":1.35},{"t":53,"v":1.37},{"t":54,"v":1.39},{"t":55,"v":1.4},{"t":56,"v":1.42},{"t":57,"v":1.44},{"t":58,"v":1.46},{"t":59,"v":1.47},{"t":60,"v":1.49},{"t":61,"v":1.55},{"t":62,"v":1.67},{"t":63,"v":1.6},{"t":64,"v":1.7},{"t":65,"v":1.66},{"t":66,"v":1.74},{"t":67,"v":1.7},{"t":68,"v":1.76},{"t":69,"v":1.74},{"t":70,"v":1.8},{"t":71,"v":1.77},{"t":72,"v":1.84},{"t":73,"v":1.81},{"t":74,"v":1.87},{"t":75,"v":1.84},{"t":76,"v":1.9},{"t":77,"v":1.88},{"t":78,"v":1.94},{"t":79,"v":1.91},{"t":80,"v":2.0},{"t":81,"v":1.96},{"t":82,"v":2.04},{"t":83,"v":2.0},{"t":84,"v":2.08},{"t":85,"v":2.05},{"t":86,"v":2.14},{"t":87,"v":2.1},{"t":88,"v":2.2},{"t":89,"v":2.15},{"t":90,"v":2.28},{"t":91,"v":2.22},{"t":92,"v":2.35},{"t":93,"v":2.3},{"t":94,"v":2.45},{"t":95,"v":2.4},{"t":96,"v":2.52},{"t":97,"v":2.47},{"t":98,"v":2.6},{"t":99,"v":2.55},{"t":100,"v":2.72},{"t":101,"v":2.64},{"t":102,"v":2.86},{"t":103,"v":2.72},{"t":104,"v":3.05},{"t":105,"v":2.76},{"t":106,"v":3.33},{"t":107,"v":2.95},{"t":108,"v":3.2},{"t":109,"v":3.05},{"t":110,"v":3.45},{"t":111,"v":3.35},{"t":112,"v":3.42},{"t":113,"v":3.6},{"t":114,"v":3.55},{"t":115,"v":3.72},{"t":116,"v":3.65},{"t":117,"v":3.82},{"t":118,"v":3.72},{"t":119,"v":3.88},{"t":120,"v":3.8},{"t":121,"v":3.99},{"t":122,"v":3.86},{"t":123,"v":4.07}]
},
"concat": [
{
 "vconcat": [{
  "width": 563, "height": 296,
  "title": {"text": "RMSE : 00:00 01 Apr 2023 - 21:00 30 Jun 2023", "subtitle": "25 stations"},
  "encoding": {
   "x": {"field": "t", "type": "quantitative", "title": "Leadtime", "scale": {"domain": [-12, 252], "nice": false, "zero": false}, "axis": {"values": [-9,-3,0,3,6,9,12,15,18,21,24,27,30,33,36,39,42,45,48,51,54,57,60,63,66,69,72,75,78,81,84,87,90,93,96,99,102,105,108,111,114,117,120,123,126,129,132,135,138,141,144,147,150,153,156,159,162,165,168,171,174,177,180,183,186,189,192,195,198,201,204,207,210,213,216,219,222,225,228,231,234,237,240,243,246,249,252], "format": "d", "labelExpr": "datum.value % 6 ? '' : datum.label", "tickOpacity": {"condition": {"test": "datum.value % 6", "value": 0}, "value": 1}, "gridWidth": {"condition": {"test": "datum.value % 6", "value": 0.5}, "value": 1}}},
   "y": {"field": "v", "type": "quantitative", "title": "RMSE", "scale": {"domain": [0.887, 4.473], "nice": false, "zero": false}, "axis": {"values": [1,1.5,2,2.5,3,3.5,4], "format": "d", "labelExpr": "datum.value % 1 ? '' : datum.label", "tickOpacity": {"condition": {"test": "datum.value % 1", "value": 0}, "value": 1}, "gridWidth": {"condition": {"test": "datum.value % 1", "value": 0.5}, "value": 1}}}
  },
  "layer": [
   {"data": {"name": "t2m_ecmwf"}, "mark": "line", "encoding": {"color": {"datum": "ECMWF", "legend": {"title": null}}}},
   {"data": {"name": "t2m_ecmwfpp"}, "mark": "line", "encoding": {"color": {"datum": "ECMWF_PP"}}},
   {"data": {"name": "t2m_harmonie"}, "mark": "line", "encoding": {"color": {"datum": "HARMONIE"}}},
   {"data": {"name": "t2m_harmoniepp"}, "mark": "line", "encoding": {"color": {"datum": "HARMONIE_PP"}}},
   {"data": {"name": "t2m_legmc"}, "mark": "line", "encoding": {"color": {"datum": "LEGMC"}}},
   {"data": {"name": "t2m_ecmwf"}, "mark": "point", "encoding": {"color": {"datum": "ECMWF"}}},
   {"data": {"name": "t2m_ecmwfpp"}, "mark": "point", "encoding": {"color": {"datum": "ECMWF_PP"}}},
   {"data": {"name": "t2m_harmonie"}, "mark": "point", "encoding": {"color": {"datum": "HARMONIE"}}},
   {"data": {"name": "t2m_harmoniepp"}, "mark": "point", "encoding": {"color": {"datum": "HARMONIE_PP"}}},
   {"data": {"name": "t2m_legmc"}, "mark": "point", "encoding": {"color": {"datum": "LEGMC"}}}
  ]
 }],
 "resolve": {"scale": {"color": "independent"}},
 "title": {"text": "Verification for T2m", "orient": "bottom", "anchor": "end", "frame": "bounds", "fontSize": 7.3, "offset": 7, "dx": -7}
},
{
 "vconcat": [{
  "width": 550, "height": 296,
  "title": {"text": "RMSE : 00:00 01 Apr 2023 - 21:00 30 Jun 2023", "subtitle": "25 stations"},
  "encoding": {
   "x": {"field": "t", "type": "quantitative", "title": "Leadtime", "scale": {"domain": [-12, 252], "nice": false, "zero": false}, "axis": {"values": [-9,-3,0,3,6,9,12,15,18,21,24,27,30,33,36,39,42,45,48,51,54,57,60,63,66,69,72,75,78,81,84,87,90,93,96,99,102,105,108,111,114,117,120,123,126,129,132,135,138,141,144,147,150,153,156,159,162,165,168,171,174,177,180,183,186,189,192,195,198,201,204,207,210,213,216,219,222,225,228,231,234,237,240,243,246,249,252], "format": "d", "labelExpr": "datum.value % 6 ? '' : datum.label", "tickOpacity": {"condition": {"test": "datum.value % 6", "value": 0}, "value": 1}, "gridWidth": {"condition": {"test": "datum.value % 6", "value": 0.5}, "value": 1}}},
   "y": {"field": "v", "type": "quantitative", "title": "RMSE", "scale": {"domain": [0.648, 2.452], "nice": false, "zero": false}, "axis": {"values": [0.75,1,1.25,1.5,1.75,2,2.25], "format": ".1f", "labelExpr": "datum.value % 0.5 ? '' : datum.label", "tickOpacity": {"condition": {"test": "datum.value % 0.5", "value": 0}, "value": 1}, "gridWidth": {"condition": {"test": "datum.value % 0.5", "value": 0.5}, "value": 1}}}
  },
  "layer": [
   {"data": {"name": "s10m_ecmwf"}, "mark": "line", "encoding": {"color": {"datum": "ECMWF", "legend": {"title": null}}}},
   {"data": {"name": "s10m_ecmwfpp"}, "mark": "line", "encoding": {"color": {"datum": "ECMWF_PP"}}},
   {"data": {"name": "s10m_harmonie"}, "mark": "line", "encoding": {"color": {"datum": "HARMONIE"}}},
   {"data": {"name": "s10m_harmoniepp"}, "mark": "line", "encoding": {"color": {"datum": "HARMONIE_PP"}}},
   {"data": {"name": "s10m_legmc"}, "mark": "line", "encoding": {"color": {"datum": "LEGMC"}}},
   {"data": {"name": "s10m_ecmwf"}, "mark": "point", "encoding": {"color": {"datum": "ECMWF"}}},
   {"data": {"name": "s10m_ecmwfpp"}, "mark": "point", "encoding": {"color": {"datum": "ECMWF_PP"}}},
   {"data": {"name": "s10m_harmonie"}, "mark": "point", "encoding": {"color": {"datum": "HARMONIE"}}},
   {"data": {"name": "s10m_harmoniepp"}, "mark": "point", "encoding": {"color": {"datum": "HARMONIE_PP"}}},
   {"data": {"name": "s10m_legmc"}, "mark": "point", "encoding": {"color": {"datum": "LEGMC"}}}
  ]
 }],
 "resolve": {"scale": {"color": "independent"}},
 "title": {"text": "Verification for S10m", "orient": "bottom", "anchor": "end", "frame": "bounds", "fontSize": 7.3, "offset": 7, "dx": -7}
},
{
 "vconcat": [{
  "width": 560, "height": 294,
  "title": {"text": "RMSE : 00:00 01 Apr 2023 - 21:00 30 Jun 2023", "subtitle": "25 stations"},
  "encoding": {
   "x": {"field": "t", "type": "quantitative", "title": "Leadtime", "scale": {"domain": [-12, 252], "nice": false, "zero": false}, "axis": {"values": [-9,-3,0,3,6,9,12,15,18,21,24,27,30,33,36,39,42,45,48,51,54,57,60,63,66,69,72,75,78,81,84,87,90,93,96,99,102,105,108,111,114,117,120,123,126,129,132,135,138,141,144,147,150,153,156,159,162,165,168,171,174,177,180,183,186,189,192,195,198,201,204,207,210,213,216,219,222,225,228,231,234,237,240,243,246,249,252], "format": "d", "labelExpr": "datum.value % 6 ? '' : datum.label", "tickOpacity": {"condition": {"test": "datum.value % 6", "value": 0}, "value": 1}, "gridWidth": {"condition": {"test": "datum.value % 6", "value": 0.5}, "value": 1}}},
   "y": {"field": "v", "type": "quantitative", "title": "RMSE", "scale": {"domain": [6.0, 21.35], "nice": false, "zero": false}, "axis": {"values": [7.5,10,12.5,15,17.5,20], "format": "d", "labelExpr": "datum.value % 5 ? '' : datum.label", "tickOpacity": {"condition": {"test": "datum.value % 5", "value": 0}, "value": 1}, "gridWidth": {"condition": {"test": "datum.value % 5", "value": 0.5}, "value": 1}}}
  },
  "layer": [
   {"data": {"name": "rh2m_ecmwf"}, "mark": "line", "encoding": {"color": {"datum": "ECMWF", "legend": {"title": null}}}},
   {"data": {"name": "rh2m_ecmwfpp"}, "mark": "line", "encoding": {"color": {"datum": "ECMWF_PP"}}},
   {"data": {"name": "rh2m_harmonie"}, "mark": "line", "encoding": {"color": {"datum": "HARMONIE"}}},
   {"data": {"name": "rh2m_harmoniepp"}, "mark": "line", "encoding": {"color": {"datum": "HARMONIE_PP"}}},
   {"data": {"name": "rh2m_legmc"}, "mark": "line", "encoding": {"color": {"datum": "LEGMC"}}},
   {"data": {"name": "rh2m_ecmwf"}, "mark": "point", "encoding": {"color": {"datum": "ECMWF"}}},
   {"data": {"name": "rh2m_ecmwfpp"}, "mark": "point", "encoding": {"color": {"datum": "ECMWF_PP"}}},
   {"data": {"name": "rh2m_harmonie"}, "mark": "point", "encoding": {"color": {"datum": "HARMONIE"}}},
   {"data": {"name": "rh2m_harmoniepp"}, "mark": "point", "encoding": {"color": {"datum": "HARMONIE_PP"}}},
   {"data": {"name": "rh2m_legmc"}, "mark": "point", "encoding": {"color": {"datum": "LEGMC"}}}
  ]
 }],
 "resolve": {"scale": {"color": "independent"}},
 "title": {"text": "Verification for RH2m", "orient": "bottom", "anchor": "end", "frame": "bounds", "fontSize": 7.3, "offset": 7, "dx": -7}
},
{
 "vconcat": [{
  "width": 559, "height": 294,
  "title": {"text": "RMSE : 00:00 01 Apr 2023 - 21:00 30 Jun 2023", "subtitle": "25 stations"},
  "encoding": {
   "x": {"field": "t", "type": "quantitative", "title": "Leadtime", "scale": {"domain": [-12, 252], "nice": false, "zero": false}, "axis": {"values": [-9,-3,0,3,6,9,12,15,18,21,24,27,30,33,36,39,42,45,48,51,54,57,60,63,66,69,72,75,78,81,84,87,90,93,96,99,102,105,108,111,114,117,120,123,126,129,132,135,138,141,144,147,150,153,156,159,162,165,168,171,174,177,180,183,186,189,192,195,198,201,204,207,210,213,216,219,222,225,228,231,234,237,240,243,246,249,252], "format": "d", "labelExpr": "datum.value % 6 ? '' : datum.label", "tickOpacity": {"condition": {"test": "datum.value % 6", "value": 0}, "value": 1}, "gridWidth": {"condition": {"test": "datum.value % 6", "value": 0.5}, "value": 1}}},
   "y": {"field": "v", "type": "quantitative", "title": "RMSE", "scale": {"domain": [-0.116, 8.156], "nice": false, "zero": false}, "axis": {"values": [0,1,2,3,4,5,6,7,8], "format": "d", "labelExpr": "datum.value % 2 ? '' : datum.label", "tickOpacity": {"condition": {"test": "datum.value % 2", "value": 0}, "value": 1}, "gridWidth": {"condition": {"test": "datum.value % 2", "value": 0.5}, "value": 1}}}
  },
  "layer": [
   {"data": {"name": "pmsl_ecmwf"}, "mark": "line", "encoding": {"color": {"datum": "ECMWF", "legend": {"title": null}}}},
   {"data": {"name": "pmsl_ecmwfpp"}, "mark": "line", "encoding": {"color": {"datum": "ECMWF_PP"}}},
   {"data": {"name": "pmsl_harmonie"}, "mark": "line", "encoding": {"color": {"datum": "HARMONIE"}}},
   {"data": {"name": "pmsl_harmoniepp"}, "mark": "line", "encoding": {"color": {"datum": "HARMONIE_PP"}}},
   {"data": {"name": "pmsl_legmc"}, "mark": "line", "encoding": {"color": {"datum": "LEGMC"}}},
   {"data": {"name": "pmsl_ecmwf"}, "mark": "point", "encoding": {"color": {"datum": "ECMWF"}}},
   {"data": {"name": "pmsl_ecmwfpp"}, "mark": "point", "encoding": {"color": {"datum": "ECMWF_PP"}}},
   {"data": {"name": "pmsl_harmonie"}, "mark": "point", "encoding": {"color": {"datum": "HARMONIE"}}},
   {"data": {"name": "pmsl_harmoniepp"}, "mark": "point", "encoding": {"color": {"datum": "HARMONIE_PP"}}},
   {"data": {"name": "pmsl_legmc"}, "mark": "point", "encoding": {"color": {"datum": "LEGMC"}}}
  ]
 }],
 "resolve": {"scale": {"color": "independent"}},
 "title": {"text": "Verification for Pmsl", "orient": "bottom", "anchor": "end", "frame": "bounds", "fontSize": 7.3, "offset": 7, "dx": -7}
}
]
}
